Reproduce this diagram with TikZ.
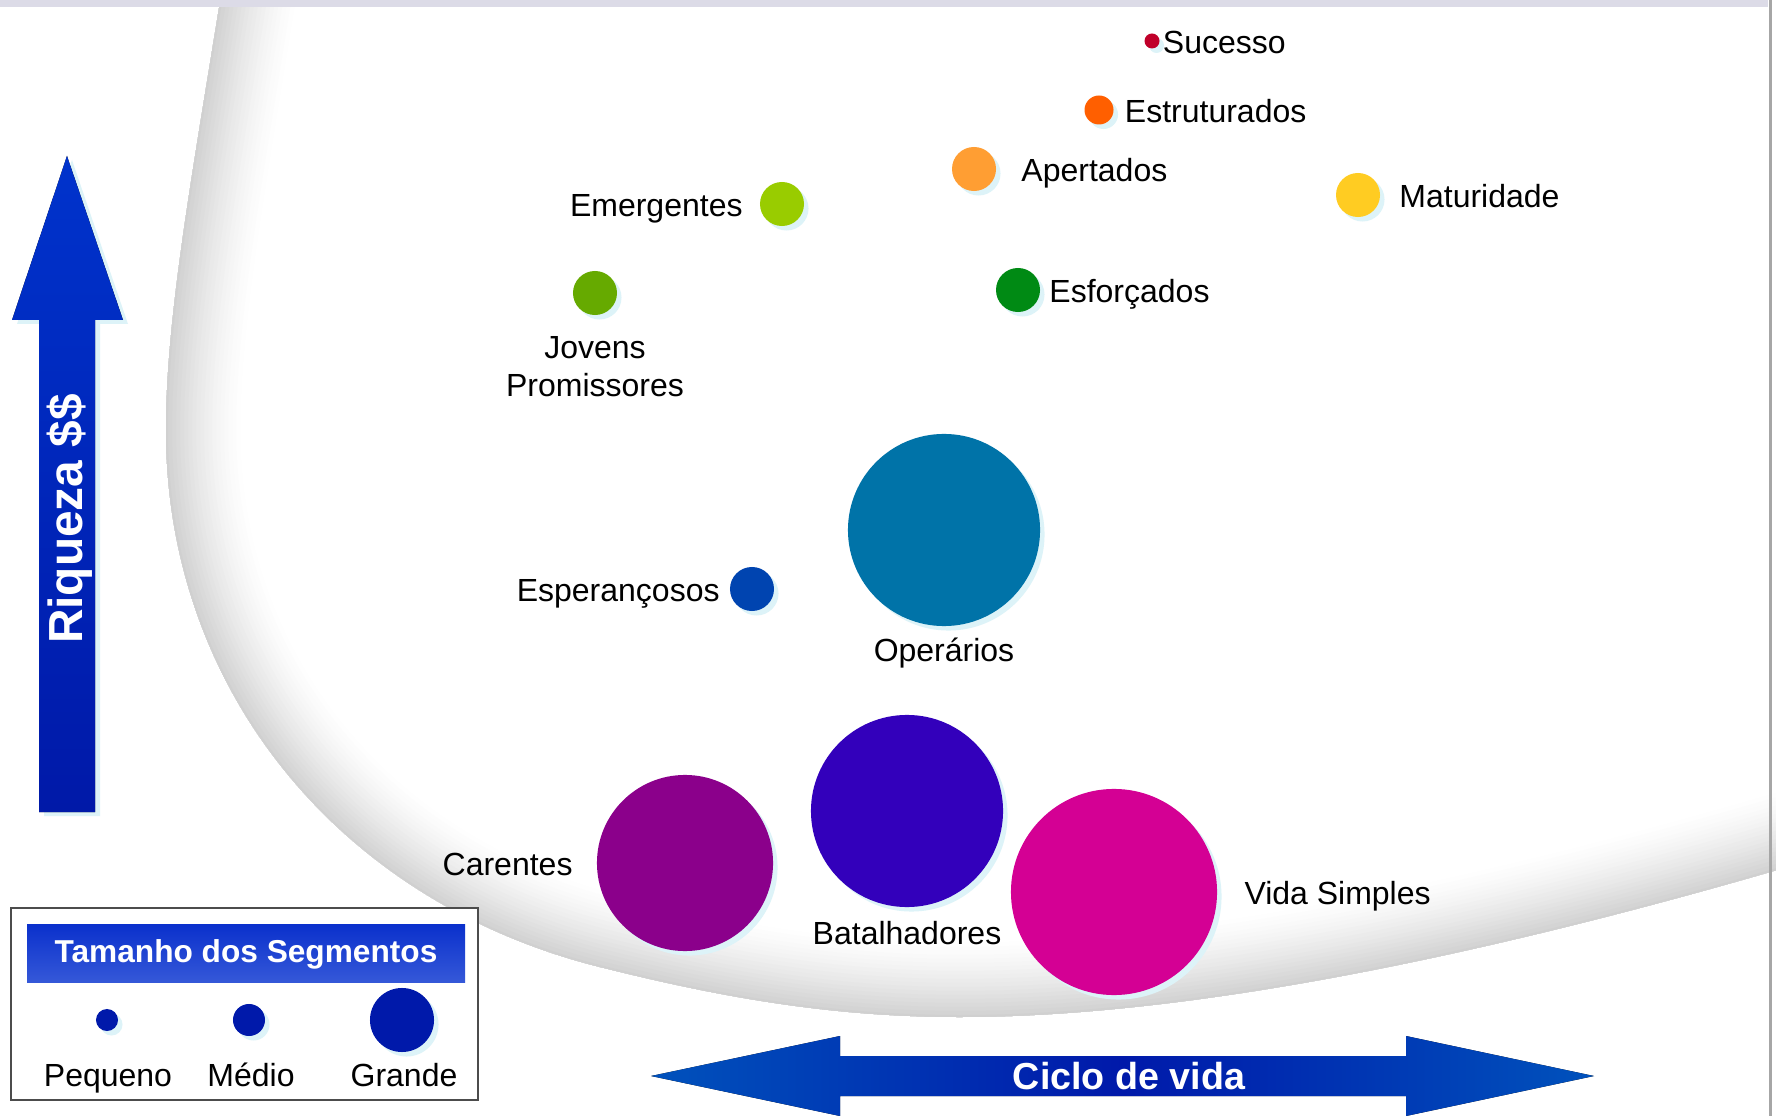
\documentclass[tikz,border=0pt]{standalone}
\usepackage{fontspec}
\setmainfont{Liberation Sans}
\usetikzlibrary{positioning,shadows}

% cores dos segmentos
\definecolor{corSucesso}{HTML}{C0002A}
\definecolor{corEstruturados}{HTML}{FF5F00}
\definecolor{corApertados}{HTML}{FF9E33}
\definecolor{corMaturidade}{HTML}{FFCC22}
\definecolor{corEmergentes}{HTML}{99CC00}
\definecolor{corEsforcados}{HTML}{008A14}
\definecolor{corJovens}{HTML}{66AA00}
\definecolor{corEsperancosos}{HTML}{0044B0}
\definecolor{corOperarios}{HTML}{0073A8}
\definecolor{corCarentes}{HTML}{8B008B}
\definecolor{corBatalhadores}{HTML}{3300BB}
\definecolor{corVidaSimples}{HTML}{D40094}
\definecolor{corLegenda}{HTML}{0019AA}
\definecolor{sombra}{HTML}{DDF3F8}
\definecolor{faixa}{HTML}{DCDBE7}
\definecolor{setaTopo}{HTML}{0033CC}
\definecolor{setaBase}{HTML}{0019A8}
\definecolor{cicloBorda}{HTML}{0052BC}
\definecolor{cicloMeio}{HTML}{0019AA}
\definecolor{tituloTopo}{HTML}{0A30CC}
\definecolor{tituloBase}{HTML}{3558D8}

\tikzset{
    bolha/.style={circle, inner sep=0pt, minimum size=#1,
        drop shadow={fill=sombra, opacity=1, shadow xshift=0.45mm, shadow yshift=-0.45mm}},
    rotulo/.style={inner sep=0pt, font=\fontsize{9.1pt}{10.8pt}\selectfont},
    lado/.style={rotulo, text height=0.72em, text depth=0pt},
    titulo/.style={inner sep=0pt, text=white, font=\fontsize{9pt}{11pt}\selectfont\bfseries},
}

% contorno da bacia (coordenadas em pixels)
\newcommand{\bacia}[1]{\path[#1] (2300,-600) -- (236,-600) -- (236,-100)
    .. controls (201,130) and (166,300) .. (166,430)
    .. controls (166,690) and (340,902) .. (600,967)
    .. controls (720,997) and (830,1017) .. (960,1017)
    .. controls (1200,1017) and (1500,950) .. (1770,872)
    -- (2000,806) -- (2300,806) -- cycle;}

\begin{document}
\begin{tikzpicture}[x=0.01cm, y=-0.01cm]
    \useasboundingbox (0,0) rectangle (1776,1116);
    \fill[white] (0,0) rectangle (1776,1116);

    % fundo em degrade
    \begin{scope}
        \bacia{clip}
        \foreach \d in {78,74,...,2} {
            \pgfmathsetmacro{\tom}{19*(1-\d/80)^1.4}
            \bacia{draw=black!\tom, line width=\d*0.02cm}
        }
    \end{scope}
    \fill[faixa] (0,0) rectangle (1768,7);
    \draw[line width=0.03cm, black!35] (1770,0) -- (1770,1116);

    % eixos
    \fill[top color=setaTopo, bottom color=setaBase, drop shadow={fill=sombra, opacity=1, shadow xshift=0.5mm, shadow yshift=-0.4mm}]
        (67,156) -- (123,320) -- (95,320) -- (95,812) -- (39,812) -- (39,320) -- (12,320) -- cycle;
    \node[titulo, rotate=90, font=\fontsize{13.6pt}{16pt}\selectfont\bfseries] (riqueza) at (70,519) {Riqueza \$\$};
    \fill[left color=cicloBorda, right color=cicloBorda, middle color=cicloMeio]
        (651,1076) -- (840,1036) -- (840,1056) -- (1406,1056) -- (1406,1036) -- (1594,1076)
        -- (1406,1116) -- (1406,1096) -- (840,1096) -- (840,1116) -- cycle;
    \node[titulo, font=\fontsize{10.7pt}{13pt}\selectfont\bfseries] (ciclo) at (1129,1076) {Ciclo de vida};

    % legenda
    \draw[draw=black!70, line width=0.2mm, fill=white] (11,908) rectangle (478,1100);
    \shade[top color=tituloTopo, bottom color=tituloBase] (27,924) rectangle (465,982);
    \node[titulo] (tamanho) at (246,954) {Tamanho dos Segmentos};
    \node[bolha=2.2mm, fill=corLegenda] (pequeno) at (107,1020) {};
    \node[bolha=3.2mm, fill=corLegenda] (medio) at (249,1020) {};
    \node[bolha=6.4mm, fill=corLegenda] (grande) at (402,1020) {};
    \node[rotulo, anchor=base] (tPequeno) at (108,1086) {Pequeno};
    \node[rotulo, anchor=base] (tMedio) at (251,1086) {Médio};
    \node[rotulo, anchor=base] (tGrande) at (404,1086) {Grande};

    % segmentos
    \node[bolha=1.5mm, fill=corSucesso] (sucesso) at (1152,41) {};
    \node[bolha=2.9mm, fill=corEstruturados] (estruturados) at (1099,110) {};
    \node[bolha=4.4mm, fill=corApertados] (apertados) at (974,169) {};
    \node[bolha=4.4mm, fill=corMaturidade] (maturidade) at (1358,195) {};
    \node[bolha=4.4mm, fill=corEmergentes] (emergentes) at (782,204) {};
    \node[bolha=4.4mm, fill=corEsforcados] (esforcados) at (1018,290) {};
    \node[bolha=4.4mm, fill=corJovens] (jovens) at (595,293) {};
    \node[bolha=4.4mm, fill=corEsperancosos] (esperancosos) at (752,589) {};
    \node[bolha=19.2mm, fill=corOperarios] (operarios) at (944,530) {};
    \node[bolha=17.6mm, fill=corCarentes] (carentes) at (685,863) {};
    \node[bolha=19.2mm, fill=corBatalhadores] (batalhadores) at (907,811) {};
    \node[bolha=20.6mm, fill=corVidaSimples] (vidasimples) at (1114,892) {};

    \node[lado, right=0.2mm of sucesso] (tSucesso) {Sucesso};
    \node[lado, right=1mm of estruturados] (tEstruturados) {Estruturados};
    \node[lado, right=2.4mm of apertados] (tApertados) {Apertados};
    \node[lado, right=1.8mm of maturidade] (tMaturidade) {Maturidade};
    \node[lado, left=1.6mm of emergentes] (tEmergentes) {Emergentes};
    \node[lado, right=0.8mm of esforcados] (tEsforcados) {Esforçados};
    \node[rotulo, below=2mm of jovens, align=center] (tJovens) {Jovens\\Promissores};
    \node[lado, left=0.9mm of esperancosos] (tEsperancosos) {Esperançosos};
    \node[rotulo, below=1mm of operarios] (tOperarios) {Operários};
    \node[lado, left=2.3mm of carentes] (tCarentes) {Carentes};
    \node[rotulo, below=1.3mm of batalhadores] (tBatalhadores) {Batalhadores};
    \node[lado, right=2.6mm of vidasimples] (tVidaSimples) {Vida Simples};
\end{tikzpicture}
\end{document}
